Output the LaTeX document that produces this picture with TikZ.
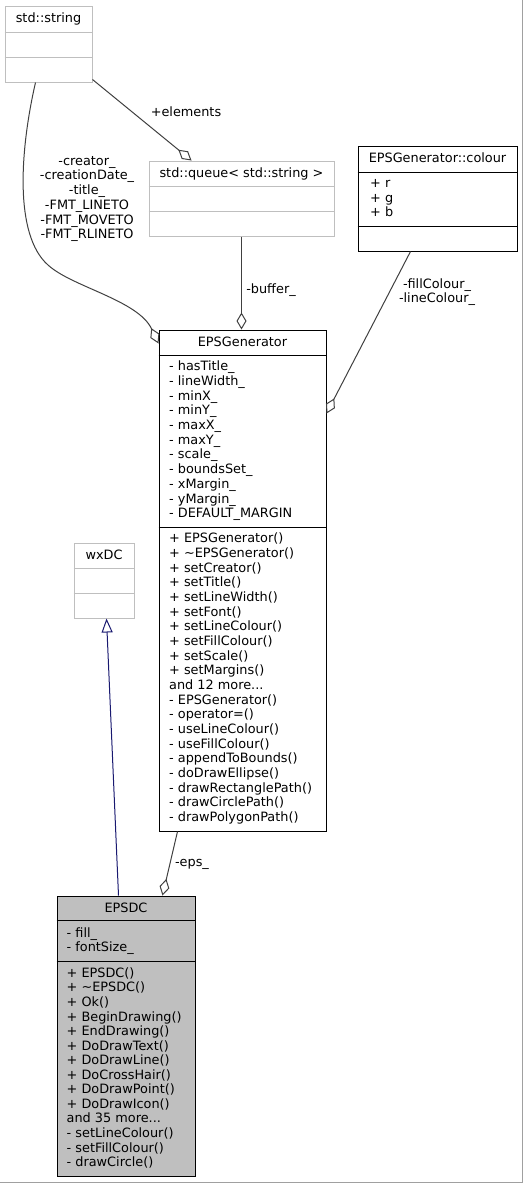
\documentclass[tikz,border=0pt]{standalone}
\usepackage{fontspec}
\setmainfont{DejaVu Sans}
\usepackage{xcolor}
\usetikzlibrary{arrows.meta, calc}
\definecolor{edgegrey}{HTML}{404040}
\definecolor{boxgrey}{HTML}{BFBFBF}
\definecolor{framegrey}{HTML}{A0A0A0}
\definecolor{inherit}{HTML}{191970}
\newcommand\moredots{...}

\tikzset{
  txt/.style={inner sep=0pt, font=\fontsize{12.85}{14.7}\selectfont},
  member/.style={txt, anchor=base west},
  title/.style={txt, anchor=base},
  greybox/.style={draw=boxgrey, line width=1pt, inner sep=0pt},
  blackbox/.style={draw=black, line width=1pt, inner sep=0pt},
  edge/.style={draw=edgegrey, line width=1pt, -{Diamond[open, length=17pt, width=10pt]}},
  isa/.style={draw=inherit, line width=1pt, -{Triangle[open, length=14pt, width=11pt]}}
}

\begin{document}
\begin{tikzpicture}[x=1pt, y=-1pt]
    \useasboundingbox (0,0) rectangle (523,1183);
    \draw[framegrey, line width=1.5pt] (522.5,0) -- (522.5,1182.5) -- (0,1182.5);

    % std::string
    \node[greybox, minimum width=87, minimum height=76] (str) at (48.5,44) {};
    \draw[boxgrey, line width=1pt] (str.west |- 0,32) -- (str.east |- 0,32);
    \draw[boxgrey, line width=1pt] (str.west |- 0,57) -- (str.east |- 0,57);
    \node[title] (strT) at (48.5,22.5) {std::string};

    % std::queue
    \node[greybox, minimum width=185, minimum height=75] (queue) at (241.5,198.5) {};
    \draw[boxgrey, line width=1pt] (queue.west |- 0,186) -- (queue.east |- 0,186);
    \draw[boxgrey, line width=1pt] (queue.west |- 0,211) -- (queue.east |- 0,211);
    \node[title] (queueT) at (241.5,177.5) {std::queue< std::string >};

    % EPSGenerator::colour
    \node[blackbox, minimum width=159, minimum height=105] (col) at (437.5,198.5) {};
    \draw[line width=1pt] (col.west |- 0,172) -- (col.east |- 0,172);
    \draw[line width=1pt] (col.west |- 0,226) -- (col.east |- 0,226);
    \node[title] (colT) at (437.5,162.5) {EPSGenerator::colour};
    \foreach \t [count=\i from 0] in {+ r, + g, + b}
        \node[member] (colA\i) at (370,{187.3+14.7*\i}) {\t};

    % EPSGenerator
    \node[blackbox, minimum width=167, minimum height=501] (gen) at (242.5,580.5) {};
    \draw[line width=1pt] (gen.west |- 0,355) -- (gen.east |- 0,355);
    \draw[line width=1pt] (gen.west |- 0,527) -- (gen.east |- 0,527);
    \node[title] (genT) at (242.5,346.5) {EPSGenerator};
    \foreach \t [count=\i from 0] in {- hasTitle\_, - lineWidth\_, - minX\_, - minY\_,
        - maxX\_, - maxY\_, - scale\_, - boundsSet\_, - xMargin\_, - yMargin\_, - DEFAULT\_MARGIN}
        \node[member] (genA\i) at (169,{370.7+14.7*\i}) {\t};
    \foreach \t [count=\i from 0] in {+ EPSGenerator(), + \textasciitilde EPSGenerator(),
        + setCreator(), + setTitle(), + setLineWidth(), + setFont(), + setLineColour(),
        + setFillColour(), + setScale(), + setMargins(), and 12 more\moredots, - EPSGenerator(),
        - operator=(), - useLineColour(), - useFillColour(), - appendToBounds(),
        - doDrawEllipse(), - drawRectanglePath(), - drawCirclePath(), - drawPolygonPath()}
        \node[member] (genM\i) at (169,{542.7+14.67*\i}) {\t};

    % wxDC
    \node[greybox, minimum width=60, minimum height=75] (wx) at (104,580.5) {};
    \draw[boxgrey, line width=1pt] (wx.west |- 0,568) -- (wx.east |- 0,568);
    \draw[boxgrey, line width=1pt] (wx.west |- 0,593) -- (wx.east |- 0,593);
    \node[title] (wxT) at (104,559.5) {wxDC};

    % EPSDC
    \node[blackbox, fill=boxgrey, minimum width=138, minimum height=280] (dc) at (126,1036) {};
    \draw[line width=1pt] (dc.west |- 0,920) -- (dc.east |- 0,920);
    \draw[line width=1pt] (dc.west |- 0,961) -- (dc.east |- 0,961);
    \node[title] (dcT) at (126,912.5) {EPSDC};
    \foreach \t [count=\i from 0] in {- fill\_, - fontSize\_}
        \node[member] (dcA\i) at (66.5,{937.4+14.2*\i}) {\t};
    \foreach \t [count=\i from 0] in {+ EPSDC(), + \textasciitilde EPSDC(), + Ok(),
        + BeginDrawing(), + EndDrawing(), + DoDrawText(), + DoDrawLine(), + DoCrossHair(),
        + DoDrawPoint(), + DoDrawIcon(), and 35 more\moredots, - setLineColour(),
        - setFillColour(), - drawCircle()}
        \node[member] (dcM\i) at (66.5,{977.4+14.55*\i}) {\t};

    % Liens
    \draw[edge] ($(str.south east)+(0,-3)$) -- ($(queue.north west)+(43,0)$);
    \node[txt] (lblElem) at (186,112) {+elements};

    \draw[edge] ($(str.south west)+(31,0)$) .. controls (20,150) and (14,235) .. (48,265)
        .. controls (72,287) and (138,300) .. ($(gen.north west)+(0,14)$);
    \node[txt, align=center] (lblStr) at (87,199)
        {-creator\_\\-creationDate\_\\-title\_\\-FMT\_LINETO\\-FMT\_MOVETO\\-FMT\_RLINETO};

    \draw[edge] (queue.south) -- (queue.south |- gen.north);
    \node[txt] (lblBuf) at (271,290) {-buffer\_};

    \draw[edge] ($(col.south west)+(53,0)$) -- ($(gen.north east)+(0,84)$);
    \node[txt, align=center] (lblCol) at (437,292) {-fillColour\_\\-lineColour\_};

    \draw[edge] ($(gen.south west)+(19,0)$) -- ($(dc.north west)+(106,0)$);
    \node[txt] (lblEps) at (192,864) {-eps\_};

    \draw[isa] ($(dc.north west)+(62,0)$) -- ($(wx.south west)+(33,0)$);
\end{tikzpicture}
\end{document}
